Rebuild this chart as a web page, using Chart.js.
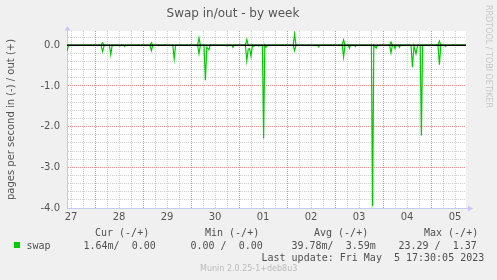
<!DOCTYPE html>
<html>
<head>
<meta charset="utf-8">
<title>Swap in/out - by week</title>
<script src="https://cdn.jsdelivr.net/npm/chart.js@4/dist/chart.umd.min.js"></script>
<style>
  body { margin: 0; background: #f0f0f0; }
  #wrap { position: relative; width: 497px; height: 280px; overflow: hidden; }
  #wrap canvas { position: absolute; left: 0; top: 0; }
  .lg { position: absolute; font-family: 'DejaVu Sans Mono', monospace; font-size: 10px; line-height: 12px; color: #505050; white-space: pre; }
  .ft { position: absolute; font-family: 'DejaVu Sans', sans-serif; font-size: 8px; line-height: 10px; color: #bbb; white-space: pre; }
  #rrd { position: absolute; left: 484px; top: 5px; writing-mode: vertical-rl; font-family: 'DejaVu Sans', sans-serif; font-size: 8px; color: #c8c8c8; white-space: pre; }
  #sq { position: absolute; left: 14px; top: 242px; width: 6px; height: 6px; background: #00cc00; }
</style>
</head>
<body>
<div id="wrap">
  <canvas id="swapChart" width="497" height="280"></canvas>
  <div id="rrd">RRDTOOL / TOBI OETIKER</div>
  <div id="legend"></div>
</div>
<script>
// hours counted from 27 Apr 00:00, the graph runs 27 Apr 10:00 -> 5 May 17:30
const startHour = 10;
const endHour = 209.5;

// swap in (drawn negative)
const inHours = [10, 10.75,
  27, 27.8, 28.6, 31.2, 31.9, 32.6, 35.8, 36.3, 36.8, 38.3, 38.8, 39.3,
  51.5, 52.2, 52.9, 62.9, 63.6, 64.3, 75.3, 76, 76.7,
  78.5, 79.2, 79.9, 80.9, 81.6, 89.5, 90, 90.5, 92.5, 93, 93.5,
  99.2, 99.9, 100.6, 101.3, 102, 102.7, 103.3, 103.9, 105.3, 105.8, 106.3,
  107.7, 108.3, 108.9, 109.5, 110,
  123.1, 123.8, 124.5, 135.3, 135.8, 136.3,
  147.6, 148.3, 149, 150.7, 151.2, 151.7, 153.7, 154.2, 154.7,
  162.2, 162.8, 163.4, 164.6, 165.2,
  171.3, 172, 172.7, 173.4, 174, 174.6, 175.7, 176.2, 176.7,
  182, 182.7, 183.5, 184.5, 185.3, 186.6, 187.2, 187.8,
  195.5, 196.2, 196.9, 198.7, 199.2, 199.7, 209.5];
const inValues = [-0.15, 0,
  0, -0.15, 0, 0, -0.23, 0, 0, -0.02, 0, 0, -0.03, 0,
  0, -0.13, 0, 0, -0.33, 0, 0, -0.21, 0,
  0, -0.86, -0.05, -0.11, 0, 0, -0.02, 0, 0, -0.05, 0,
  0, -0.38, -0.1, -0.08, -0.27, 0, -0.03, 0, 0, -0.02, 0,
  0, -2.29, 0, -0.05, 0,
  0, -0.13, 0, 0, -0.04, 0,
  0, -0.29, 0, 0, -0.07, 0, 0, -0.03, 0,
  0, -3.96, 0, -0.07, 0,
  0, -0.19, 0, 0, -0.08, 0, 0, -0.05, 0,
  0, -0.54, -0.02, -0.21, 0, 0, -2.22, 0,
  0, -0.48, 0, 0, -0.03, 0, 0];

// swap out (drawn positive)
const outHours = [10, 27, 27.8, 28.6, 51.5, 52.2, 52.9, 75.3, 76, 76.7,
  99.2, 99.9, 100.6, 123.1, 123.8, 124.5, 147.6, 148.3, 149,
  171.3, 172, 172.7, 195.5, 196.2, 196.9, 209.5];
const outValues = [0, 0, 0.06, 0, 0, 0.06, 0, 0, 0.18, 0,
  0, 0.14, 0, 0, 0.28, 0, 0, 0.13, 0,
  0, 0.08, 0, 0, 0.10, 0, 0];

const dayLabels = ['27', '28', '29', '30', '01', '02', '03', '04', '05'];
const dayNoonHours = [12, 36, 60, 84, 108, 132, 156, 180, 204];
const yTickValues = [-4, -3, -2, -1, 0];
const yTickLabels = ['-4.0', '-3.0', '-2.0', '-1.0', '0.0'];

const legendHeads = ['Cur (-/+)', 'Min (-/+)', 'Avg (-/+)', 'Max (-/+)'];
const legendStats = ['1.64m/  0.00', '0.00 /  0.00', '39.78m/  3.59m', '23.29 /  1.37'];
const lastUpdate = 'Last update: Fri May  5 17:30:05 2023';
const muninVersion = 'Munin 2.0.25-1+deb8u3';

// legend text under the graph
const legend = document.getElementById('legend');
function addText(cls, txt, x, y) {
  const d = document.createElement('div');
  d.className = cls;
  d.textContent = txt;
  d.style.left = x + 'px';
  d.style.top = y + 'px';
  legend.appendChild(d);
}
const headX = [95, 205, 314, 424];
const statX = [83.5, 190.5, 291.5, 398.5];
legendHeads.forEach((t, i) => addText('lg', t, headX[i], 227));
addText('lg', 'swap', 26.5, 240);
legendStats.forEach((t, i) => addText('lg', t, statX[i], 240));
addText('lg', lastUpdate, 261.5, 251.5);
addText('ft', muninVersion, 200, 264);
const sq = document.createElement('div');
sq.id = 'sq';
legend.appendChild(sq);

const toPoints = (xs, ys) => xs.map((x, i) => ({ x: x, y: ys[i] }));

const axisColor = '#c8c8f0';
const majorGrid = '#ec8a8a';
const minorGrid = '#d2d2d2';

const backdrop = {
  id: 'backdrop',
  beforeDraw(chart) {
    const { ctx, chartArea: a } = chart;
    ctx.save();
    ctx.fillStyle = '#f0f0f0';
    ctx.fillRect(0, 0, chart.width, chart.height);
    ctx.fillStyle = '#ffffff';
    ctx.fillRect(a.left, a.top, a.right - a.left, a.bottom - a.top);
    ctx.restore();
  },
  afterDraw(chart) {
    // little arrow heads at the axis ends
    const { ctx, chartArea: a } = chart;
    ctx.save();
    ctx.fillStyle = axisColor;
    ctx.strokeStyle = axisColor;
    ctx.lineWidth = 1;
    ctx.beginPath();
    ctx.moveTo(a.left + 0.5, a.top);
    ctx.lineTo(a.left + 0.5, a.top - 1);
    ctx.stroke();
    ctx.beginPath();
    ctx.moveTo(a.left - 2.5, a.top - 0.5);
    ctx.lineTo(a.left + 3.5, a.top - 0.5);
    ctx.lineTo(a.left + 0.5, a.top - 5);
    ctx.closePath();
    ctx.fill();
    ctx.beginPath();
    ctx.moveTo(a.right, a.bottom + 0.5);
    ctx.lineTo(a.right + 2, a.bottom + 0.5);
    ctx.stroke();
    ctx.beginPath();
    ctx.moveTo(a.right + 2, a.bottom - 2.5);
    ctx.lineTo(a.right + 2, a.bottom + 3.5);
    ctx.lineTo(a.right + 7, a.bottom + 0.5);
    ctx.closePath();
    ctx.fill();
    ctx.restore();
  }
};

const ctx = document.getElementById('swapChart').getContext('2d');
const swapChart = new Chart(ctx, {
  type: 'line',
  data: {
    datasets: [{
      label: 'zero',
      data: toPoints([startHour, endHour], [0, 0]),
      borderColor: '#000000',
      borderWidth: 1.6,
      pointRadius: 0,
      order: 0
    }, {
      label: 'swap in',
      data: toPoints(inHours, inValues),
      borderColor: '#00cc00',
      borderWidth: 1.2,
      pointRadius: 0,
      tension: 0,
      order: 1
    }, {
      label: 'swap out',
      data: toPoints(outHours, outValues),
      borderColor: '#00cc00',
      borderWidth: 1.2,
      pointRadius: 0,
      tension: 0,
      order: 1
    }]
  },
  options: {
    responsive: false,
    animation: false,
    devicePixelRatio: 1,
    layout: { padding: { left: 0, right: 31, top: 0, bottom: 50 } },
    plugins: {
      legend: { display: false },
      tooltip: { enabled: false },
      title: {
        display: true,
        text: 'Swap in/out - by week',
        color: '#555',
        font: { family: 'DejaVu Sans', size: 12, weight: 'normal', lineHeight: 1.2 },
        padding: { top: 7, bottom: 9.6 }
      }
    },
    scales: {
      x: {
        type: 'linear',
        min: startHour,
        max: endHour,
        afterFit(s) { s.height = 22; },
        afterBuildTicks(s) {
          const t = [];
          for (let h = 12; h <= 204; h += 6) t.push({ value: h });
          s.ticks = t;
        },
        ticks: {
          autoSkip: false,
          maxRotation: 0,
          padding: 3,
          color: '#555',
          font: { family: 'DejaVu Sans', size: 10 },
          callback: v => {
            const i = dayNoonHours.indexOf(v);
            return i >= 0 ? dayLabels[i] : '';
          }
        },
        grid: {
          drawTicks: false,
          color: c => (c.tick && c.tick.value % 24 === 0) ? majorGrid : minorGrid
        },
        border: { display: true, color: axisColor, width: 1, dash: [1, 1] }
      },
      y: {
        min: -4,
        max: 0.35,
        afterFit(s) { s.width = 67; },
        afterBuildTicks(s) {
          const t = [];
          for (let k = -20; k <= 1; k++) t.push({ value: Math.round(k * 2) / 10 });
          s.ticks = t;
        },
        ticks: {
          autoSkip: false,
          padding: 7,
          color: '#555',
          font: { family: 'DejaVu Sans', size: 10 },
          callback: v => {
            const i = yTickValues.indexOf(v);
            return i >= 0 ? yTickLabels[i] : '';
          }
        },
        grid: {
          drawTicks: false,
          color: c => (c.tick && Number.isInteger(c.tick.value)) ? majorGrid : minorGrid
        },
        border: { display: true, color: axisColor, width: 1, dash: [1, 1] },
        title: {
          display: true,
          text: 'pages per second in (-) / out (+)',
          color: '#555',
          font: { family: 'DejaVu Sans', size: 10 },
          padding: { top: 5.5, bottom: 0 }
        }
      }
    }
  },
  plugins: [backdrop]
});
</script>
</body>
</html>
